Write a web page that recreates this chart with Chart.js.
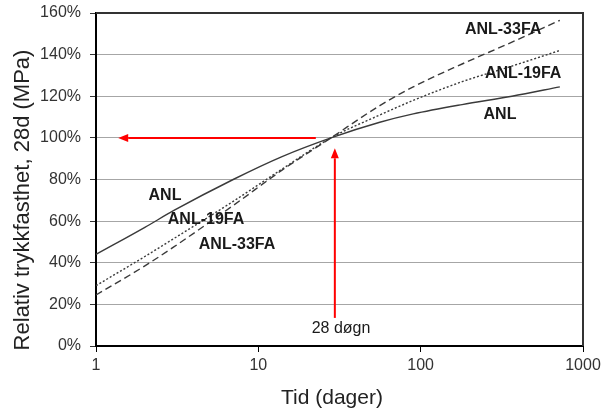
<!DOCTYPE html>
<html>
<head>
<meta charset="utf-8">
<script src="https://cdn.jsdelivr.net/npm/chart.js@4"></script>
<style>
  html, body { margin: 0; padding: 0; background: #fff; }
  #wrap { width: 602px; height: 414px; }
</style>
</head>
<body>
<div id="wrap"><canvas id="chart" width="602" height="414"></canvas></div>
<script>
// Alder i døgn og relativ trykkfasthet (% av 28d)
const days    = [1, 2, 3, 7, 14, 28, 56, 90, 180, 365, 720];
const anl     = [44, 57, 65, 80, 91, 100, 107.5, 111.5, 116, 120, 124.5];
const anl19fa = [29, 43, 51.5, 69.5, 85, 100, 111, 118, 127, 134.5, 142];
const anl33fa = [24.5, 38.5, 47.5, 67.5, 84.5, 100, 115.5, 124.5, 135.5, 146, 156.5];

const xTicks = [1, 10, 100, 1000];
const yTicks = [0, 20, 40, 60, 80, 100, 120, 140, 160];

// Tekster i plottet (dataposisjon)
const curveLabels = [
  { text: 'ANL-33FA', x: 322, y: 152 },
  { text: 'ANL-19FA', x: 428, y: 131 },
  { text: 'ANL',      x: 308, y: 111 },
  { text: 'ANL',      x: 2.66, y: 72.5 },
  { text: 'ANL-19FA', x: 4.76, y: 60.5 },
  { text: 'ANL-33FA', x: 7.39, y: 48.5 }
];
const ageLabel = { text: '28 døgn', x: 32.3, y: 8.2 };
const hArrow = { from: 22.6, to: 1.37, y: 100 };
const vArrow = { x: 29.6, from: 13.5, to: 95 };

const FONT = "'Liberation Sans', Arial, sans-serif";
const LINE = '#3a3a3a';

function pts(vals) { return days.map((d, i) => ({ x: d, y: vals[i] })); }

function arrow(ctx, x0, y0, x1, y1) {
  const ang = Math.atan2(y1 - y0, x1 - x0), len = 10, hw = 4;
  const bx = x1 - len * Math.cos(ang), by = y1 - len * Math.sin(ang);
  ctx.beginPath(); ctx.moveTo(x0, y0); ctx.lineTo(bx, by); ctx.stroke();
  ctx.beginPath();
  ctx.moveTo(x1, y1);
  ctx.lineTo(bx - hw * Math.sin(ang), by + hw * Math.cos(ang));
  ctx.lineTo(bx + hw * Math.sin(ang), by - hw * Math.cos(ang));
  ctx.closePath(); ctx.fill();
}

const marks = {
  id: 'marks',
  afterDatasetsDraw(chart) {
    const { ctx, chartArea: a, scales: { x, y } } = chart;
    ctx.save();
    // ramme topp/høyre
    ctx.strokeStyle = '#333'; ctx.lineWidth = 2;
    ctx.beginPath();
    ctx.moveTo(a.left, a.top); ctx.lineTo(a.right, a.top); ctx.lineTo(a.right, a.bottom);
    ctx.stroke();

    // røde piler
    ctx.strokeStyle = ctx.fillStyle = '#ff0000'; ctx.lineWidth = 2;
    const hy = y.getPixelForValue(hArrow.y);
    arrow(ctx, x.getPixelForValue(hArrow.from), hy, x.getPixelForValue(hArrow.to), hy);
    const vx = x.getPixelForValue(vArrow.x);
    arrow(ctx, vx, y.getPixelForValue(vArrow.from), vx, y.getPixelForValue(vArrow.to));

    // kurvenavn
    ctx.fillStyle = '#1a1a1a';
    ctx.textAlign = 'center'; ctx.textBaseline = 'middle';
    ctx.font = 'bold 16px ' + FONT;
    curveLabels.forEach(l => ctx.fillText(l.text, x.getPixelForValue(l.x), y.getPixelForValue(l.y)));
    ctx.font = '16px ' + FONT;
    ctx.fillText(ageLabel.text, x.getPixelForValue(ageLabel.x), y.getPixelForValue(ageLabel.y));

    // aksetitler
    ctx.fillStyle = '#222';
    ctx.font = '21px ' + FONT;
    ctx.fillText('Tid (dager)', 332, 398);
    ctx.translate(23, 200);
    ctx.rotate(-Math.PI / 2);
    ctx.font = '22px ' + FONT;
    ctx.fillText('Relativ trykkfasthet, 28d (MPa)', 0, 0);
    ctx.restore();
  }
};

new Chart(document.getElementById('chart'), {
  type: 'line',
  data: {
    datasets: [
      { label: 'ANL', data: pts(anl), borderColor: LINE, borderWidth: 1.4 },
      { label: 'ANL-19FA', data: pts(anl19fa), borderColor: LINE, borderWidth: 1.4, borderDash: [2, 2] },
      { label: 'ANL-33FA', data: pts(anl33fa), borderColor: LINE, borderWidth: 1.4, borderDash: [7, 4] }
    ]
  },
  options: {
    responsive: false,
    animation: false,
    layout: { padding: { left: 0, top: 13, right: 19, bottom: 0 } },
    elements: {
      point: { radius: 0 },
      line: { cubicInterpolationMode: 'monotone', fill: false }
    },
    plugins: { legend: { display: false }, tooltip: { enabled: false } },
    scales: {
      x: {
        type: 'logarithmic', min: 1, max: 1000,
        afterBuildTicks: s => { s.ticks = xTicks.map(v => ({ value: v })); },
        afterFit: s => { s.height = 68; s.paddingLeft = 0; s.paddingRight = 0; },
        ticks: { callback: v => String(v), autoSkip: false, maxRotation: 0, padding: 4,
                 color: '#333', font: { family: FONT, size: 16 } },
        grid: { drawOnChartArea: false, tickLength: 6, color: '#000' },
        border: { color: '#000', width: 2 }
      },
      y: {
        min: 0, max: 160,
        afterBuildTicks: s => { s.ticks = yTicks.map(v => ({ value: v })); },
        afterFit: s => { s.width = 96; s.paddingTop = 0; s.paddingBottom = 0; },
        ticks: { callback: v => v + '%', padding: 9, color: '#333', font: { family: FONT, size: 16 } },
        grid: { color: '#a6a6a6', lineWidth: 1, tickLength: 6, tickColor: '#333' },
        border: { color: '#000', width: 2 }
      }
    }
  },
  plugins: [marks]
});
</script>
</body>
</html>
